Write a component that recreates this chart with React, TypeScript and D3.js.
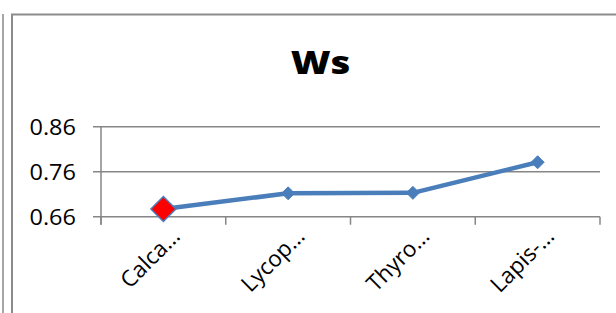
import * as d3 from "d3";
import { useRef, useEffect } from "react";

// chart data
const categories = ["Calca…", "Lycop…", "Thyro…", "Lapis-…"];
const wsValues = [0.677, 0.712, 0.713, 0.781];
const yTicks = [0.66, 0.76, 0.86];
const highlightIndex = 0;

const App = (): JSX.Element => {
  const svgRef = useRef<SVGSVGElement>(null);

  useEffect(() => {
    if (!svgRef.current) return;
    const width = 616;
    const height = 313;
    const svg = d3.select(svgRef.current);
    svg.selectAll("*").remove();
    svg.attr("width", width).attr("height", height);

    const font = "'Open Sans', 'DejaVu Sans', sans-serif";
    const gray = "#868686";
    const blue = "#4A7EBB";

    // white background + the frames
    svg.append("rect").attr("width", width).attr("height", height).attr("fill", "#fff");
    svg
      .append("line")
      .attr("x1", 3)
      .attr("x2", 3)
      .attr("y1", 14)
      .attr("y2", height)
      .attr("stroke", "#a6a6a6")
      .attr("stroke-width", 2);
    svg
      .append("rect")
      .attr("x", 12)
      .attr("y", 14.5)
      .attr("width", width + 20)
      .attr("height", height)
      .attr("fill", "none")
      .attr("stroke", "#8c8c8c")
      .attr("stroke-width", 2);

    // scales
    const x = d3.scaleBand<string>().domain(categories).range([101, 600]).padding(0);
    const y = d3.scaleLinear().domain([0.66, 0.86]).range([216.7, 126.7]);
    const cx = (d: string) => (x(d) || 0) + x.bandwidth() / 2;

    // title
    svg
      .append("text")
      .attr("transform", "translate(320.5,73.5) scale(1.2,1)")
      .attr("text-anchor", "middle")
      .style("font-family", font)
      .style("font-weight", 800)
      .style("font-size", "32px")
      .text("Ws");

    // gridlines (extend left as outside ticks)
    const grid = svg.append("g");
    grid
      .selectAll("line")
      .data(yTicks)
      .join("line")
      .attr("x1", 93)
      .attr("x2", 600)
      .attr("y1", (d) => y(d))
      .attr("y2", (d) => y(d))
      .attr("stroke", gray)
      .attr("stroke-width", 1.5);

    // y axis line
    svg
      .append("line")
      .attr("x1", 101)
      .attr("x2", 101)
      .attr("y1", y(0.86))
      .attr("y2", y(0.66) + 8)
      .attr("stroke", gray)
      .attr("stroke-width", 1.5);

    // x axis ticks
    const edges = categories.map((c) => x(c) || 0).concat([600]);
    svg
      .append("g")
      .selectAll("line")
      .data(edges)
      .join("line")
      .attr("x1", (d) => d)
      .attr("x2", (d) => d)
      .attr("y1", y(0.66))
      .attr("y2", y(0.66) + 8)
      .attr("stroke", gray)
      .attr("stroke-width", 1.5);

    // y tick labels
    svg
      .append("g")
      .selectAll("text")
      .data(yTicks)
      .join("text")
      .attr("transform", (d) => `translate(76,${y(d) + 8}) scale(1.12,1)`)
      .attr("text-anchor", "end")
      .style("font-family", font)
      .style("font-size", "21px")
      .text((d) => d3.format(".2f")(d));

    // x category labels, rotated
    svg
      .append("g")
      .selectAll("text")
      .data(categories)
      .join("text")
      .attr("transform", (d) => `translate(${cx(d) + 18},${y(0.66) + 21}) rotate(-45)`)
      .attr("text-anchor", "end")
      .style("font-family", font)
      .style("font-size", "22.5px")
      .text((d) => d);

    // series line
    const pts: [number, number][] = categories.map((c, i) => [cx(c), y(wsValues[i])]);
    svg
      .append("path")
      .attr("d", d3.line()(pts))
      .attr("fill", "none")
      .attr("stroke", blue)
      .attr("stroke-width", 4.5)
      .attr("stroke-linejoin", "round");

    // markers
    const diamond = (r: number) => `M0,${-r}L${r},0L0,${r}L${-r},0Z`;
    svg
      .append("g")
      .selectAll("path")
      .data(pts)
      .join("path")
      .attr("transform", (d) => `translate(${d[0]},${d[1]})`)
      .attr("d", (_d, i) => diamond(i === highlightIndex ? 12.5 : 6.5))
      .attr("fill", (_d, i) => (i === highlightIndex ? "#FF0000" : blue))
      .attr("stroke", blue)
      .attr("stroke-width", (_d, i) => (i === highlightIndex ? 1.5 : 1));

    return () => {
      d3.select(svgRef.current).selectAll("*").remove();
    };
  }, []);

  return (
    <div style={{ position: "absolute", left: 0, top: 0 }}>
      <svg ref={svgRef} style={{ display: "block" }} />
    </div>
  );
};

export default App;
